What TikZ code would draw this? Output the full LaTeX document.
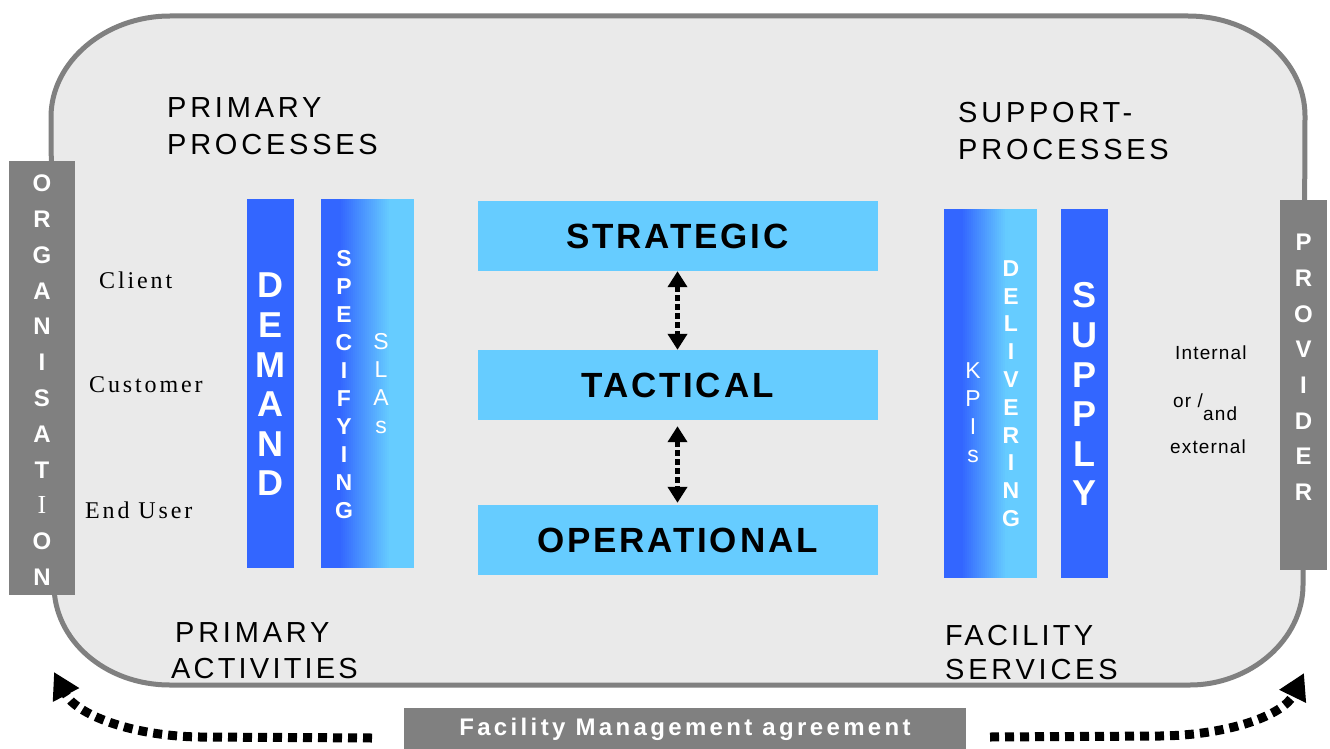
\documentclass[tikz,border=0pt]{standalone}
\usepackage{fontspec}
\setmainfont{Liberation Sans}
\newfontfamily\hsans[LetterSpace=13]{Liberation Sans}
\newfontfamily\hsanst[LetterSpace=11]{Liberation Sans}
\newfontfamily\bxsans[LetterSpace=8]{Liberation Sans}
\newfontfamily\agsans[LetterSpace=14]{Liberation Sans}
\newfontfamily\srf[LetterSpace=12]{Liberation Serif}
\newfontfamily\plainserif{Liberation Serif}
\newfontfamily\smsans[LetterSpace=6]{Liberation Sans}
\usetikzlibrary{arrows.meta}
\definecolor{fmblue}{HTML}{3366FF}
\definecolor{fmlight}{HTML}{66CCFF}
\definecolor{fmgray}{HTML}{808080}
\definecolor{fmbg}{HTML}{EAEAEA}
\tikzset{
  solidbar/.style={fill=fmblue, draw=none, inner sep=0pt, minimum width=47pt, minimum height=369pt},
  gradbar/.style={fill=fmlight, draw=none, inner sep=0pt, minimum width=93pt, minimum height=369pt},
  levelbox/.style={fill=fmlight, draw=none, inner sep=0pt, minimum width=400pt, minimum height=70pt,
    font=\bxsans\bfseries\fontsize{35}{40}\selectfont, text=black},
  sidebox/.style={fill=fmgray, draw=none, inner sep=0pt},
  bigletter/.style={text=white, inner sep=0pt, text height=25.8pt, text depth=0pt,
    font=\bfseries\fontsize{36}{40}\selectfont},
  midletter/.style={text=white, inner sep=0pt, text height=16.5pt, text depth=0pt,
    font=\bfseries\fontsize{23}{26}\selectfont},
  thinletter/.style={text=white, inner sep=0pt, text height=16.5pt, text depth=0pt,
    font=\fontsize{23}{26}\selectfont},
  sideletter/.style={text=white, inner sep=0pt, text height=17.2pt, text depth=0pt,
    font=\bfseries\fontsize{24}{28}\selectfont},
  heading/.style={anchor=base west, inner sep=0pt, font=\hsans\fontsize{29}{34}\selectfont},
  headingt/.style={anchor=base west, inner sep=0pt, font=\hsanst\fontsize{29}{34}\selectfont},
  roletext/.style={anchor=base west, inner sep=0pt, font=\srf\fontsize{24}{28}\selectfont},
  smalltext/.style={anchor=base west, inner sep=0pt, font=\smsans\fontsize{19}{22}\selectfont},
  dblarrow/.style={line width=5.5pt, dash pattern=on 6pt off 3pt,
    {Triangle[length=16pt,width=19pt]}-{Triangle[length=16pt,width=19pt]}},
  fmdots/.style={line width=9pt, dash pattern=on 9pt off 6pt, -{Triangle[length=26pt,width=28pt]}},
}
\begin{document}
\begin{tikzpicture}[x=1pt,y=-1pt]
\useasboundingbox (0,0) rectangle (1330,749);
% frame
\draw[draw=fmgray, fill=fmbg, line width=5pt]
  (170,16) -- (1188,16) .. controls (1253,16) and (1305,61) .. (1305,116)
  -- (1303,585) .. controls (1303,640) and (1250,685) .. (1190,685)
  -- (170,685) .. controls (105,685) and (54,640) .. (54,585)
  -- (51,117) .. controls (51,62) and (105,16) .. (170,16) -- cycle;

% side boxes
\node[sidebox, minimum width=66pt, minimum height=434pt] (org) at (42,378) {};
\foreach \c [count=\i] in {O,R,G,A,N,I,S,A,T,{\plainserif\mdseries\fontsize{26}{28}\selectfont I},O,N}
  \node[sideletter] (org\i) at (42,{183+(\i-1)*35.8}) {\c};
\node[sidebox, minimum width=47pt, minimum height=370pt] (prov) at (1303.5,385) {};
\foreach \c [count=\i] in {P,R,O,V,I,D,E,R}
  \node[sideletter] (prov\i) at (1303.5,{242+(\i-1)*35.7}) {\c};

% headings
\node[heading] (h1) at (167,118) {PRIMARY};
\node[heading] (h2) at (167,154) {PROCESSES};
\node[heading] (h3) at (958,123) {SUPPORT-};
\node[heading] (h4) at (958,159) {PROCESSES};
\node[heading] (h5) at (175,642) {PRIMARY};
\node[headingt] (h6) at (171,678) {ACTIVITIES};
\node[headingt] (h7) at (945,645) {FACILITY};
\node[heading] (h8) at (945,679) {SERVICES};

% roles
\node[roletext] (client) at (99,288) {Client};
\node[roletext] (customer) at (89,392) {Customer};
\node[roletext] (enduser) at (85,518) {End User};

\node[smalltext] (internal) at (1175,359) {Internal};
\node[smalltext] (oror) at (1173,407) {or /};
\node[smalltext] (andand) at (1203,420) {and};
\node[smalltext] (external) at (1170,453) {external};

% demand side bars
\node[solidbar] (demand) at (270.5,383.5) {};
\foreach \c [count=\i] in {D,E,M,A,N,D}
  \node[bigletter] (dem\i) at (270.5,{285+(\i-1)*39.6}) {\c};
\node[gradbar] (spec) at (367.5,383.5) {};
\fill[fmblue] (spec.north west) rectangle ([xshift=19pt]spec.south west);
\foreach \k [evaluate=\k as \p using {100-\k*4}] in {0,...,25}
  \fill[fmblue!\p!fmlight] ([xshift={(18.5+2*\k)*1pt}]spec.north west) rectangle ([xshift={(21+2*\k)*1pt}]spec.south west);
\foreach \c [count=\i] in {S,P,E,C,I,F,Y,I,N,G}
  \node[midletter] (spec\i) at (344,{258+(\i-1)*28}) {\c};
\foreach \c [count=\i] in {S,L,A,s}
  \node[thinletter] (sla\i) at (381,{341+(\i-1)*28}) {\c};

% supply side bars
\node[gradbar] (deliv) at (990.5,393.5) {};
\fill[fmblue] (deliv.north west) rectangle ([xshift=18pt]deliv.south west);
\foreach \k [evaluate=\k as \p using {100-\k*4.5}] in {0,...,22}
  \fill[fmblue!\p!fmlight] ([xshift={(17.5+2*\k)*1pt}]deliv.north west) rectangle ([xshift={(20+2*\k)*1pt}]deliv.south west);
\foreach \c [count=\i] in {D,E,L,I,V,E,R,I,N,G}
  \node[midletter] (del\i) at (1011,{268+(\i-1)*27.8}) {\c};
\foreach \c [count=\i] in {K,P,I,s}
  \node[thinletter] (kpi\i) at (973,{370+(\i-1)*28}) {\c};
\node[solidbar] (supply) at (1084.5,393) {};
\foreach \c [count=\i] in {S,U,P,P,L,Y}
  \node[bigletter] (sup\i) at (1084.5,{295+(\i-1)*39.6}) {\c};

% levels
\node[levelbox] (strat) at (677.5,236) {STRATEGIC};
\node[levelbox] (tact) at (677.5,385) {TACTICAL};
\node[levelbox] (oper) at (677.5,540) {OPERATIONAL};
\draw[dblarrow] (strat.south) -- (tact.north);
\draw[dblarrow, shorten <=6pt, shorten >=2pt] (tact.south) -- (oper.north);

% agreement
\node[sidebox, minimum width=562pt, minimum height=42pt, text=white,
  font=\agsans\bfseries\fontsize{24}{27}\selectfont] (agree) at (685,729) {Facility Management agreement};
\coordinate (lstart) at (372,738);
\coordinate (ltip) at (54,672);
\coordinate (rstart) at (990,737);
\coordinate (rtip) at (1304,673);
\draw[fmdots] (lstart) -- (200,737) .. controls (130,736) and (76,714) .. (ltip);
\draw[fmdots] (rstart) -- (1160,736) .. controls (1232,735) and (1284,714) .. (rtip);
\end{tikzpicture}
\end{document}
